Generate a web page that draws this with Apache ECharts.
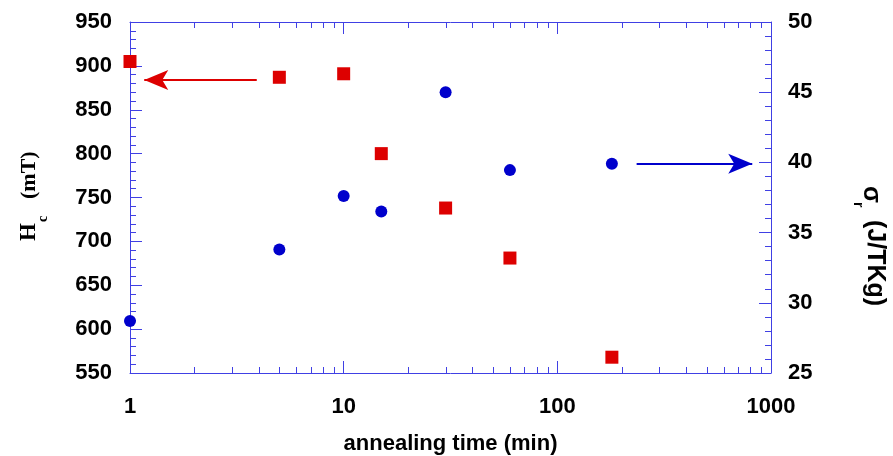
<!DOCTYPE html>
<html>
<head>
<meta charset="utf-8">
<script src="https://cdn.jsdelivr.net/npm/echarts@6/dist/echarts.min.js"></script>
<style>html,body{margin:0;padding:0;background:#fff;}#c{width:893px;height:456px;}</style>
</head>
<body>
<div id="c"></div>
<script>
// ---- data ----
const timeMin = [1, 5, 10, 15, 30, 60, 180];
const coercivity = [905, 887, 891, 800, 738, 681, 568];        // Hc (mT), left axis
const remanence = [28.7, 33.8, 37.6, 36.5, 45.0, 39.45, 39.9]; // sigma_r (J/TKg), right axis
const xTickLabels = ['1', '10', '100', '1000'];
const hcArrow = [[3.92, 884], [1.166, 884]];
const sigmaArrow = [[235, 39.9], [817, 39.9]];

const AXIS = '#4040e4';
const RED = '#dd0000';
const BLUE = '#0000cc';
const FONT = 'Liberation Sans';

const minorLog = [];
for (let d = 1; d <= 100; d *= 10) for (let k = 2; k <= 9; k++) minorLog.push(k * d);

const labelStyle = { fontFamily: FONT, fontWeight: 'bold', fontSize: 22, color: '#000' };

const chart = echarts.init(document.getElementById('c'), null, { renderer: 'canvas' });
chart.setOption({
  animation: false,
  backgroundColor: '#fff',
  grid: { left: 130, right: 122, top: 22, bottom: 83, containLabel: false, outerBoundsMode: 'none' },
  xAxis: [
    {
      type: 'log', logBase: 10, min: 1, max: 1000, position: 'bottom',
      axisLine: { show: true, onZero: false, lineStyle: { color: AXIS, width: 1 } },
      axisTick: { show: true, inside: true, length: 12, lineStyle: { color: AXIS } },
      splitLine: { show: false },
      axisLabel: Object.assign({ margin: 23, formatter: v => xTickLabels.indexOf(String(v)) >= 0 ? String(v) : '' }, labelStyle),
      name: 'annealing time (min)', nameLocation: 'middle', nameGap: 60,
      nameTextStyle: { fontFamily: FONT, fontWeight: 'bold', fontSize: 22, color: '#000' }
    },
    {
      type: 'log', logBase: 10, min: 1, max: 1000, position: 'top',
      axisLine: { show: true, onZero: false, lineStyle: { color: AXIS, width: 1 } },
      axisTick: { show: true, inside: true, length: 12, lineStyle: { color: AXIS } },
      splitLine: { show: false }, axisLabel: { show: false }
    }
  ],
  yAxis: [
    {
      type: 'value', min: 550, max: 950, interval: 50, position: 'left',
      axisLine: { show: true, onZero: false, lineStyle: { color: AXIS, width: 1 } },
      axisTick: { show: true, inside: true, length: 12, lineStyle: { color: AXIS } },
      minorTick: { show: true, splitNumber: 5, length: 6, lineStyle: { color: AXIS } },
      splitLine: { show: false },
      axisLabel: Object.assign({ margin: 18 }, labelStyle)
    },
    {
      type: 'value', min: 25, max: 50, interval: 5, position: 'right',
      axisLine: { show: true, onZero: false, lineStyle: { color: AXIS, width: 1 } },
      axisTick: { show: true, inside: true, length: 12, lineStyle: { color: AXIS } },
      minorTick: { show: true, splitNumber: 5, length: 6, lineStyle: { color: AXIS } },
      splitLine: { show: false },
      axisLabel: Object.assign({ margin: 17 }, labelStyle)
    }
  ],
  series: [
    {
      type: 'custom', xAxisIndex: 0, yAxisIndex: 0, silent: true, z: 1,
      data: minorLog.map(v => [v, 550]),
      renderItem: function (params, api) {
        const cs = params.coordSys;
        const p = api.coord([api.value(0), api.value(1)]);
        const x = Math.round(p[0]) + 0.5;
        const st = { stroke: AXIS, lineWidth: 1 };
        return {
          type: 'group', children: [
            { type: 'line', shape: { x1: x, y1: cs.y + cs.height, x2: x, y2: cs.y + cs.height - 6 }, style: st },
            { type: 'line', shape: { x1: x, y1: cs.y, x2: x, y2: cs.y + 6 }, style: st }
          ]
        };
      }
    },
    {
      name: 'Hc', type: 'scatter', xAxisIndex: 0, yAxisIndex: 0, z: 3,
      symbol: 'rect', symbolSize: 13,
      itemStyle: { color: RED, opacity: 1 },
      data: timeMin.map((t, i) => [t, coercivity[i]]),
      markLine: {
        silent: true, animation: false,
        label: { show: false },
        lineStyle: { color: RED, width: 2, type: 'solid', opacity: 1 },
        symbol: ['none', 'arrow'], symbolSize: [0, 0],
        data: [[
          { coord: hcArrow[0], symbol: 'none' },
          { coord: hcArrow[1], symbol: 'arrow', symbolSize: [15, 24] }
        ]]
      }
    },
    {
      name: 'sigma', type: 'scatter', xAxisIndex: 0, yAxisIndex: 1, z: 3,
      symbol: 'circle', symbolSize: 12,
      itemStyle: { color: BLUE, opacity: 1 },
      data: timeMin.map((t, i) => [t, remanence[i]]),
      markLine: {
        silent: true, animation: false,
        label: { show: false },
        lineStyle: { color: BLUE, width: 2, type: 'solid', opacity: 1 },
        symbol: ['none', 'arrow'], symbolSize: [0, 0],
        data: [[
          { coord: sigmaArrow[0], symbol: 'none' },
          { coord: sigmaArrow[1], symbol: 'arrow', symbolSize: [15, 24] }
        ]]
      }
    }
  ],
  graphic: [
    {
      type: 'group', x: 37, y: 241, rotation: Math.PI / 2,
      children: [
        { type: 'text', x: 0, y: -8, style: { text: 'H', font: 'bold 23px "Liberation Serif"', fill: '#000', verticalAlign: 'middle', align: 'left' } },
        { type: 'text', x: 19, y: 6, style: { text: 'c', font: 'bold 14px "Liberation Serif"', fill: '#000', verticalAlign: 'middle', align: 'left' } },
        { type: 'text', x: 42, y: -8, style: { text: '(mT)', font: 'bold 22px "Liberation Serif"', fill: '#000', verticalAlign: 'middle', align: 'left' } }
      ]
    },
    {
      type: 'group', x: 866, y: 186, rotation: -Math.PI / 2,
      children: [
        { type: 'text', x: 0, y: -5, style: { text: 'σ', font: 'bold 25px "Liberation Sans"', fill: '#000', verticalAlign: 'middle', align: 'left' } },
        { type: 'text', x: 16, y: 8, style: { text: 'r', font: 'bold 14px "Liberation Sans"', fill: '#000', verticalAlign: 'middle', align: 'left' } },
        { type: 'text', x: 34, y: -9, style: { text: '(J/TKg)', font: 'bold 25px "Liberation Sans"', fill: '#000', verticalAlign: 'middle', align: 'left' } }
      ]
    }
  ]
});
</script>
</body>
</html>
